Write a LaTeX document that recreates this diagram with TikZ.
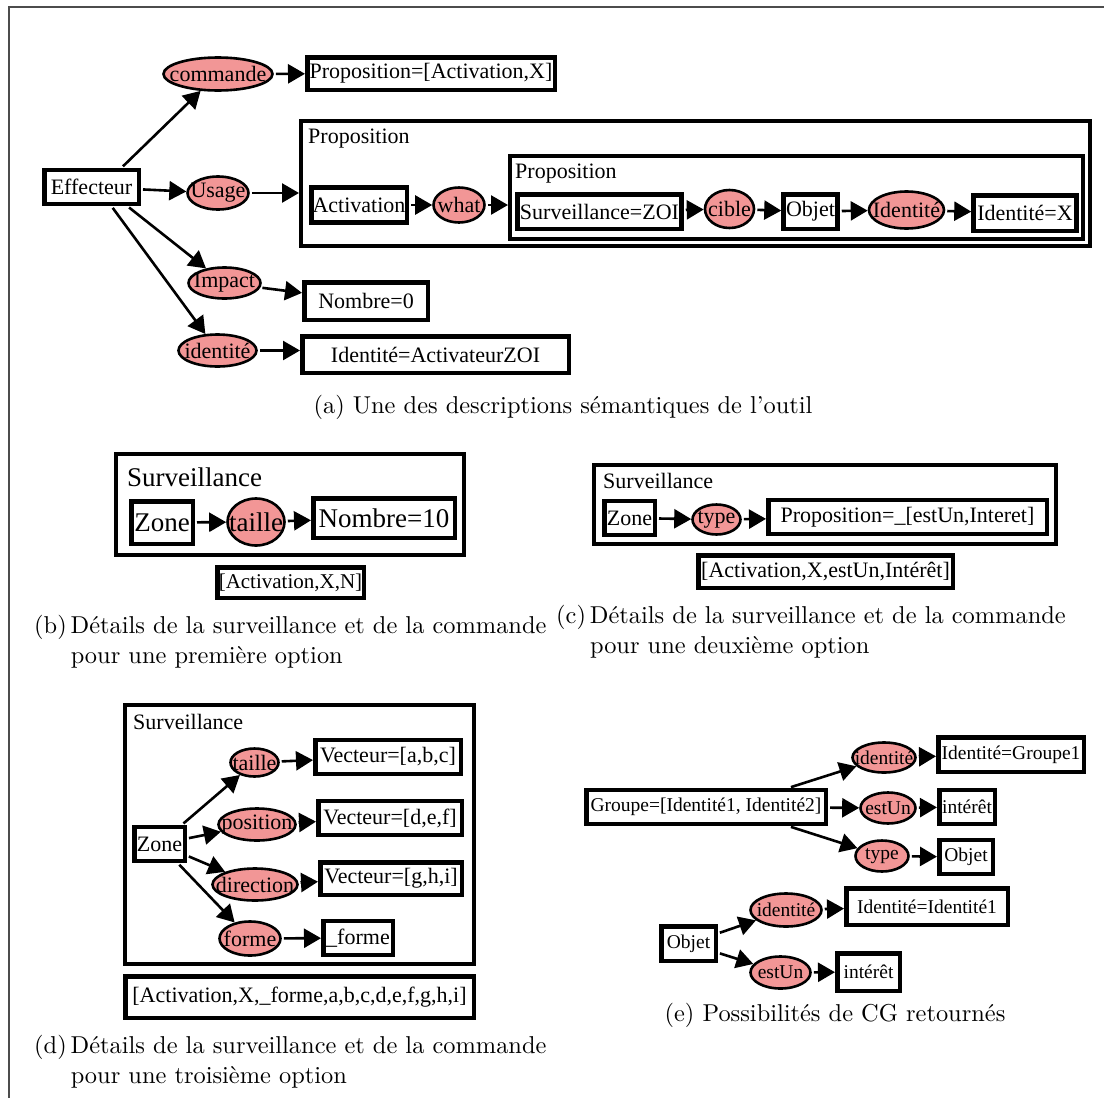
\documentclass[tikz,border=0pt]{standalone}
\usepackage{fontspec}
\newfontfamily\cgfont{Liberation Serif}
\newfontfamily\capfam{lmroman10-regular.otf}[Ligatures=TeX]
\usepackage{xcolor}
\usepackage{tikz}
\usetikzlibrary{arrows.meta,shapes.geometric}
\definecolor{relred}{RGB}{242,150,150}
\newcommand{\cgnorm}{\cgfont\fontsize{22}{24}\selectfont}
\newcommand{\cgbig}{\cgfont\fontsize{27}{30}\selectfont}
\newcommand{\cgsmall}{\cgfont\fontsize{19.5}{22}\selectfont}
\newcommand{\capfont}{\capfam\fontsize{24.4}{30}\selectfont}

\begin{document}
\begin{tikzpicture}[
    x=1pt, y=-1pt,
    box/.style={rectangle, draw, line width=4.5pt, fill=white, inner sep=0pt, minimum height=34pt, font=\cgnorm},
    rel/.style={ellipse, draw, fill=relred, line width=2.6pt, inner sep=0pt, font=\cgnorm,
        execute at begin node={\hbox to 0pt\bgroup\hss}, execute at end node={\hss\egroup}},
    cgframe/.style={rectangle, draw, line width=4pt, inner sep=0pt},
    cgtitle/.style={anchor=base west, inner sep=0pt, font=\cgnorm},
    subcap/.style={inner sep=0pt, font=\capfont},
    arrow/.style={-{Triangle[length=17pt,width=19pt]}, line width=2.6pt, shorten <=2pt}
]
    \useasboundingbox (0,0) rectangle (1104,1098);
    \draw[gray!60!black, line width=1.5pt] (1104,7) -- (9,7) -- (9,1098);

    % (a) description of the tool
    \node[box, minimum width=94.5pt] (eff) at (91.5,187) {Effecteur};
    \node[rel, minimum width=109pt, minimum height=33pt] (cmd) at (218,74) {commande};
    \node[box, minimum width=247.5pt, minimum height=32.5pt] (pcmd) at (431,73.5) {Proposition=[Activation,X]};
    \node[rel, minimum width=61pt, minimum height=33pt] (usage) at (218,193) {Usage};
    \node[cgframe, minimum width=789pt, minimum height=125pt] (prop) at (695.5,183.5) {};
    \node[cgtitle] (proptitle) at (308,143) {Proposition};
    \node[box, minimum width=95.5pt, minimum height=35pt] (activ) at (359,205) {Activation};
    \node[rel, minimum width=51pt, minimum height=35pt] (what) at (459,205) {what};
    \node[cgframe, minimum width=573pt, minimum height=83pt] (inprop) at (796.5,197.5) {};
    \node[cgtitle] (inproptitle) at (515,178) {Proposition};
    \node[box, minimum width=164pt, minimum height=34.5pt] (survzoi) at (599.5,211.5) {Surveillance=ZOI};
    \node[rel, minimum width=49pt, minimum height=38pt] (cible) at (729.5,209) {cible};
    \node[box, minimum width=54pt, minimum height=34.5pt] (objet) at (810.5,211.5) {Objet};
    \node[rel, minimum width=75pt, minimum height=37pt] (identa) at (906.5,210) {Identité};
    \node[box, minimum width=103pt, minimum height=35.5pt] (idx) at (1025,213) {Identité=X};
    \node[rel, minimum width=72pt, minimum height=31pt] (impact) at (224.5,283) {Impact};
    \node[box, minimum width=123.5pt, minimum height=37.5pt] (nb0) at (366,301) {Nombre=0};
    \node[rel, minimum width=78pt, minimum height=32pt] (ident) at (217.5,350.5) {identité};
    \node[box, minimum width=266.5pt, minimum height=36.5pt] (idzoi) at (435.5,354.5) {Identité=ActivateurZOI};
    \node[subcap] (capa) at (563,407) {(a) Une des descriptions sémantiques de l'outil};

    \draw[arrow] ([xshift=30pt]eff.north) -- (cmd);
    \draw[arrow] (cmd) -- (pcmd);
    \draw[arrow] (eff) -- (usage);
    \draw[arrow] (usage) -- (usage -| prop.west);
    \draw[arrow] ([xshift=36pt]eff.south) -- (impact);
    \draw[arrow] ([xshift=20pt]eff.south) -- (ident);
    \draw[arrow] (impact) -- (nb0);
    \draw[arrow] (ident) -- (ident -| idzoi.west);
    \draw[arrow] (activ) -- (what);
    \draw[arrow] (what) -- (what -| inprop.west);
    \draw[arrow] (survzoi) -- (cible);
    \draw[arrow] (cible) -- (objet);
    \draw[arrow] (objet) -- (identa);
    \draw[arrow] (identa) -- (idx);

    % (b) first option
    \node[cgframe, minimum width=348pt, minimum height=101pt] (survb) at (290,504.5) {};
    \node[cgtitle, font=\cgbig] (survbtitle) at (127,486) {Surveillance};
    \node[box, font=\cgbig, minimum width=61.5pt, minimum height=42.5pt] (zoneb) at (162,522.5) {Zone};
    \node[rel, font=\cgbig, minimum width=57pt, minimum height=47pt] (tailleb) at (256,522) {taille};
    \node[box, font=\cgbig, minimum width=141.5pt, minimum height=39.5pt] (nb10) at (384,518) {Nombre=10};
    \node[box, font=\cgfont\fontsize{21}{23}\selectfont, minimum width=146.5pt, minimum height=30.5pt] (actb) at (290.5,582.5) {[Activation,X,N]};
    \node[subcap, anchor=west] (capb) at (34,642) {\begin{tabular}{@{}l@{\hspace{4pt}}l@{}}(b) & Détails de la surveillance et de la commande\\ & pour une première option\end{tabular}};

    \draw[arrow] (zoneb) -- (tailleb);
    \draw[arrow] (tailleb) -- (nb10);

    % (c) second option
    \node[cgframe, minimum width=462pt, minimum height=79pt] (survc) at (825,504.5) {};
    \node[cgtitle] (survctitle) at (603,488) {Surveillance};
    \node[box, minimum width=50.5pt] (zonec) at (629.5,518) {Zone};
    \node[rel, minimum width=48pt, minimum height=30pt] (typec) at (716.5,519.5) {type};
    \node[box, minimum width=278.5pt] (propc) at (907.5,517) {Proposition=\_[estUn,Interet]};
    \node[box, minimum width=254.5pt, minimum height=32.5pt] (actc) at (825.5,571.5) {[Activation,X,estUn,Intérêt]};
    \node[subcap, anchor=west] (capc) at (556,632) {\begin{tabular}{@{}l@{\hspace{4pt}}l@{}}(c) & Détails de la surveillance et de la commande\\ & pour une deuxième option\end{tabular}};

    \draw[arrow] (zonec) -- (typec);
    \draw[arrow] (typec) -- (propc);

    % (d) third option
    \node[cgframe, minimum width=349pt, minimum height=259pt] (survd) at (299.5,834.5) {};
    \node[cgtitle] (survdtitle) at (133,729) {Surveillance};
    \node[box, minimum width=50.5pt] (zoned) at (159.5,844) {Zone};
    \node[rel, minimum width=48pt, minimum height=28pt] (tailled) at (254.5,762.5) {taille};
    \node[box, minimum width=145.5pt] (vabc) at (388,757) {Vecteur=[a,b,c]};
    \node[rel, minimum width=77pt, minimum height=32pt] (posd) at (257,824.5) {position};
    \node[box, minimum width=143.5pt] (vdef) at (390,818) {Vecteur=[d,e,f]};
    \node[rel, minimum width=85pt, minimum height=32pt] (dird) at (255,884.5) {direction};
    \node[box, minimum width=141.5pt, minimum height=32.5pt] (vghi) at (391,878.5) {Vecteur=[g,h,i]};
    \node[rel, minimum width=61pt, minimum height=34pt] (formed) at (250,938.5) {forme};
    \node[box, minimum width=69.5pt] (vforme) at (358,938) {\_forme};
    \node[box, minimum width=348.5pt, minimum height=41.5pt] (actd) at (299.5,997) {[Activation,X,\_forme,a,b,c,d,e,f,g,h,i]};
    \node[subcap, anchor=west] (capd) at (34,1062) {\begin{tabular}{@{}l@{\hspace{4pt}}l@{}}(d) & Détails de la surveillance et de la commande\\ & pour une troisième option\end{tabular}};

    \draw[arrow] (zoned) -- (tailled);
    \draw[arrow] (zoned) -- (posd);
    \draw[arrow] (zoned) -- (dird);
    \draw[arrow] (zoned) -- (formed);
    \draw[arrow] (tailled) -- (vabc);
    \draw[arrow] (posd) -- (vdef);
    \draw[arrow] (dird) -- (vghi);
    \draw[arrow] (formed) -- (vforme);

    % (e) returned graphs
    \node[box, font=\cgsmall, minimum width=239.5pt] (grp) at (706,807) {Groupe=[Identité1, Identité2]};
    \node[rel, font=\cgsmall, minimum width=63pt, minimum height=30pt] (idg) at (884,757.5) {identité};
    \node[box, font=\cgsmall, minimum width=145.5pt, minimum height=34.5pt] (idgrp) at (1011,754.5) {Identité=Groupe1};
    \node[rel, font=\cgsmall, minimum width=55pt, minimum height=31pt] (estung) at (888,808) {estUn};
    \node[box, font=\cgsmall, minimum width=55.5pt] (interg) at (967,807) {intérêt};
    \node[rel, font=\cgsmall, minimum width=53pt, minimum height=31pt] (typeg) at (882,856) {type};
    \node[box, font=\cgsmall, minimum width=53.5pt] (objg) at (966,857) {Objet};
    \node[box, font=\cgsmall, minimum width=54.5pt, minimum height=34.5pt] (objo) at (688.5,943.5) {Objet};
    \node[rel, font=\cgsmall, minimum width=71pt, minimum height=33pt] (ido) at (786,910) {identité};
    \node[box, font=\cgsmall, minimum width=161.5pt, minimum height=36.5pt] (idid) at (927,906.5) {Identité=Identité1};
    \node[rel, font=\cgsmall, minimum width=60pt, minimum height=32pt] (estuno) at (780.5,972.5) {estUn};
    \node[box, font=\cgsmall, minimum width=62.5pt, minimum height=37.5pt] (intero) at (868.5,972) {intérêt};
    \node[subcap] (cape) at (835,1015) {(e) Possibilités de CG retournés};

    \draw[arrow] ([xshift=83pt]grp.north) -- (idg);
    \draw[arrow] (idg) -- (idgrp);
    \draw[arrow] (grp) -- (estung);
    \draw[arrow] (estung) -- (interg);
    \draw[arrow] ([xshift=83pt]grp.south) -- (typeg);
    \draw[arrow] (typeg) -- (objg);
    \draw[arrow] (objo) -- (ido);
    \draw[arrow] (ido) -- (idid);
    \draw[arrow] (objo) -- (estuno);
    \draw[arrow] (estuno) -- (intero);
\end{tikzpicture}
\end{document}
